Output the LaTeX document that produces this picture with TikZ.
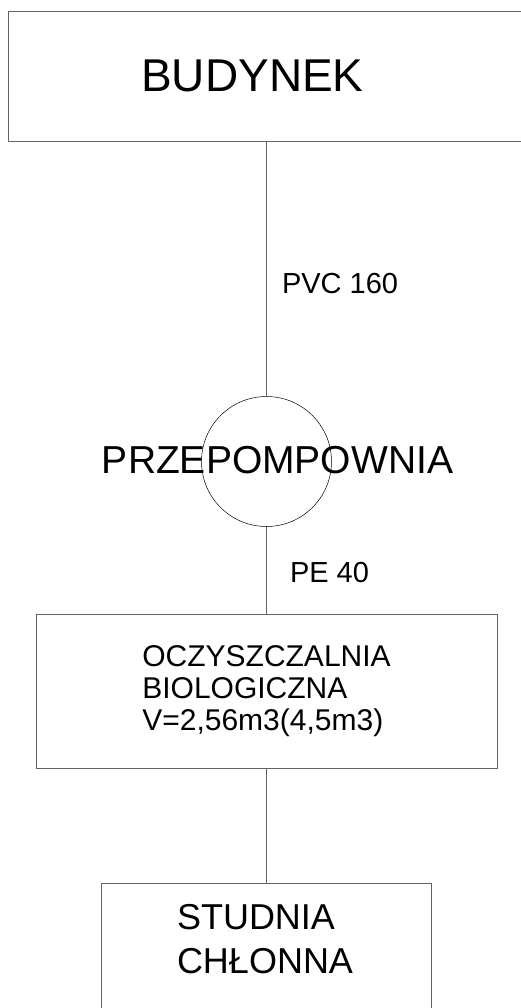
\documentclass[tikz,border=0pt]{standalone}
\usepackage{fontspec}
\setmainfont{Liberation Sans}
\usetikzlibrary{positioning}
\definecolor{linegray}{RGB}{100,100,100}

\begin{document}
\begin{tikzpicture}[
    x=1pt, y=-1pt,
    every node/.style={inner sep=0pt, outer sep=0pt},
    box/.style={draw=linegray, line width=0.9pt},
    pipe/.style={draw=linegray, line width=0.9pt},
    pump/.style={draw, circle, line width=0.5pt, minimum size=130pt},
    pipelabel/.style={anchor=base west, font=\fontsize{29}{35}\selectfont}
]
    \useasboundingbox (0,0) rectangle (521,1008);

    % Budynek
    \node[box, anchor=north west, minimum width=540pt, minimum height=130pt] (budynek) at (8.5,11) {};
    \node[anchor=base, font=\fontsize{46}{55}\selectfont] (budynektxt) at (252.5,92) {BUDYNEK};

    % Przepompownia
    \node[pump] (pompa) at (266.5,461.5) {};
    \node[anchor=base, font=\fontsize{39}{47}\selectfont] (pompatxt) at (277.5,473) {PRZEPOMPOWNIA};

    % Oczyszczalnia
    \node[box, minimum width=461pt, minimum height=154pt, align=left,
          font=\fontsize{30}{32}\selectfont] (oczysz) at (266.5,691)
          {OCZYSZCZALNIA\\BIOLOGICZNA\\V=2,56m3(4,5m3)};

    % Studnia chlonna
    \node[box, anchor=north, minimum width=330pt, minimum height=150pt] (studnia) at (266.5,883) {};
    \node[anchor=north west, align=left, font=\fontsize{36}{44}\selectfont] (studniatxt) at (177,904) {STUDNIA\\CHŁONNA};

    % Rurociagi
    \draw[pipe] (budynek.south -| pompa.north) -- (pompa.north);
    \draw[pipe] (pompa) -- (oczysz);
    \draw[pipe] (oczysz) -- (studnia);

    % Opisy rur
    \node[pipelabel] (pvc) at (282,293) {PVC 160};
    \node[pipelabel] (pe) at (290,582) {PE 40};
\end{tikzpicture}
\end{document}
